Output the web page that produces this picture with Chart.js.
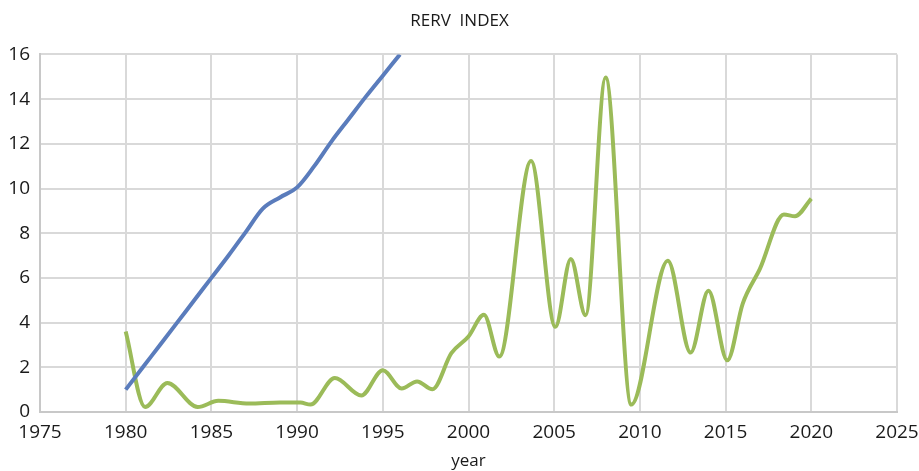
<!DOCTYPE html>
<html>
<head>
<meta charset="utf-8">
<title>RERV INDEX</title>
<script src="https://cdn.jsdelivr.net/npm/chart.js@4/dist/chart.umd.min.js"></script>
<style>
  html, body { margin: 0; padding: 0; background: #ffffff; }
  #wrap { position: relative; width: 919px; height: 471px; }
</style>
</head>
<body>
<div id="wrap"><canvas id="chart"></canvas></div>
<script>
// Blue series: yearly values
const blueYears = [1980, 1981, 1982, 1983, 1984, 1985, 1986, 1987, 1988, 1989, 1990, 1991, 1992, 1993, 1994, 1995, 1996];
const blueValues = [1.0, 2.0, 3.0, 4.0, 5.0, 6.0, 7.0, 8.05, 9.1, 9.6, 10.05, 11.0, 12.1, 13.1, 14.1, 15.05, 16.0];

// Green series: points (turning points and shoulders)
const greenYears = [
  1980.0, 1981.13, 1982.43, 1984.2, 1985.4, 1987.2, 1989.0, 1990.2, 1990.78,
  1992.2, 1993.75, 1995.0, 1996.1, 1997.0, 1997.9, 1999.0, 2000.0, 2000.9,
  2001.8, 2003.65, 2005.07, 2005.97, 2006.83, 2008.0, 2009.5,
  2011.63, 2012.96, 2014.0, 2015.1, 2016.0, 2017.0, 2018.4, 2019.05, 2020.0
];
const greenValues = [
  3.6, 0.22, 1.3, 0.22, 0.5, 0.38, 0.43, 0.42, 0.33,
  1.52, 0.74, 1.87, 1.05, 1.37, 1.02, 2.63, 3.38, 4.35,
  2.48, 11.23, 3.81, 6.85, 4.33, 14.97, 0.33,
  6.77, 2.66, 5.43, 2.31, 4.85, 6.4, 8.84, 8.76, 9.55
];

// Axis ticks
const xMin = 1975, xMax = 2025, xStep = 5;
const yMin = 0, yMax = 16, yStep = 2;

const FONT = "'Open Sans', 'Noto Sans', sans-serif";
const GRID = "#d9d9d9";

const toPoints = (xs, ys) => xs.map((x, i) => ({ x, y: ys[i] }));

const ctx = document.getElementById("chart").getContext("2d");

new Chart(ctx, {
  type: "line",
  data: {
    datasets: [
      {
        label: "blue",
        data: toPoints(blueYears, blueValues),
        borderColor: "#5a7cbc",
        borderWidth: 4,
        pointRadius: 0,
        cubicInterpolationMode: "monotone",
        fill: false,
      },
      {
        label: "green",
        data: toPoints(greenYears, greenValues),
        borderColor: "#9bbb59",
        borderWidth: 4,
        pointRadius: 0,
        cubicInterpolationMode: "monotone",
        fill: false,
      },
    ],
  },
  options: {
    responsive: true,
    maintainAspectRatio: false,
    animation: false,
    layout: {
      padding: 0,
    },
    plugins: {
      legend: { display: false },
      tooltip: { enabled: false },
      title: {
        display: true,
        text: "RERV  INDEX",
        color: "#1a1a1a",
        font: { family: FONT, size: 17, weight: "normal", lineHeight: 1.2 },
        padding: { top: 11, bottom: 23 },
      },
    },
    scales: {
      x: {
        type: "linear",
        min: xMin,
        max: xMax,
        grid: { color: GRID, lineWidth: 2, drawTicks: false },
        border: { color: "#c8c8c8", width: 2 },
        ticks: {
          stepSize: xStep,
          padding: 9,
          color: "#1a1a1a",
          font: { family: FONT, size: 19 },
          maxRotation: 0,
          callback: (v) => String(v),
        },
        title: {
          display: true,
          text: "year",
          color: "#1a1a1a",
          font: { family: FONT, size: 17 },
          padding: { top: 1, bottom: 0 },
        },
        afterFit: (scale) => {
          scale.height = 59;
          // keep the plot area where the reference has it
          scale.paddingLeft = 0;
          scale.paddingRight = 22;
        },
      },
      y: {
        min: yMin,
        max: yMax,
        grid: { color: GRID, lineWidth: 2, drawTicks: false },
        border: { color: "#c8c8c8", width: 2 },
        ticks: {
          stepSize: yStep,
          padding: 10,
          color: "#1a1a1a",
          font: { family: FONT, size: 19 },
        },
        afterFit: (scale) => {
          scale.width = 40;
          scale.paddingTop = 0;
          scale.paddingBottom = 0;
        },
      },
    },
  },
});
</script>
</body>
</html>
